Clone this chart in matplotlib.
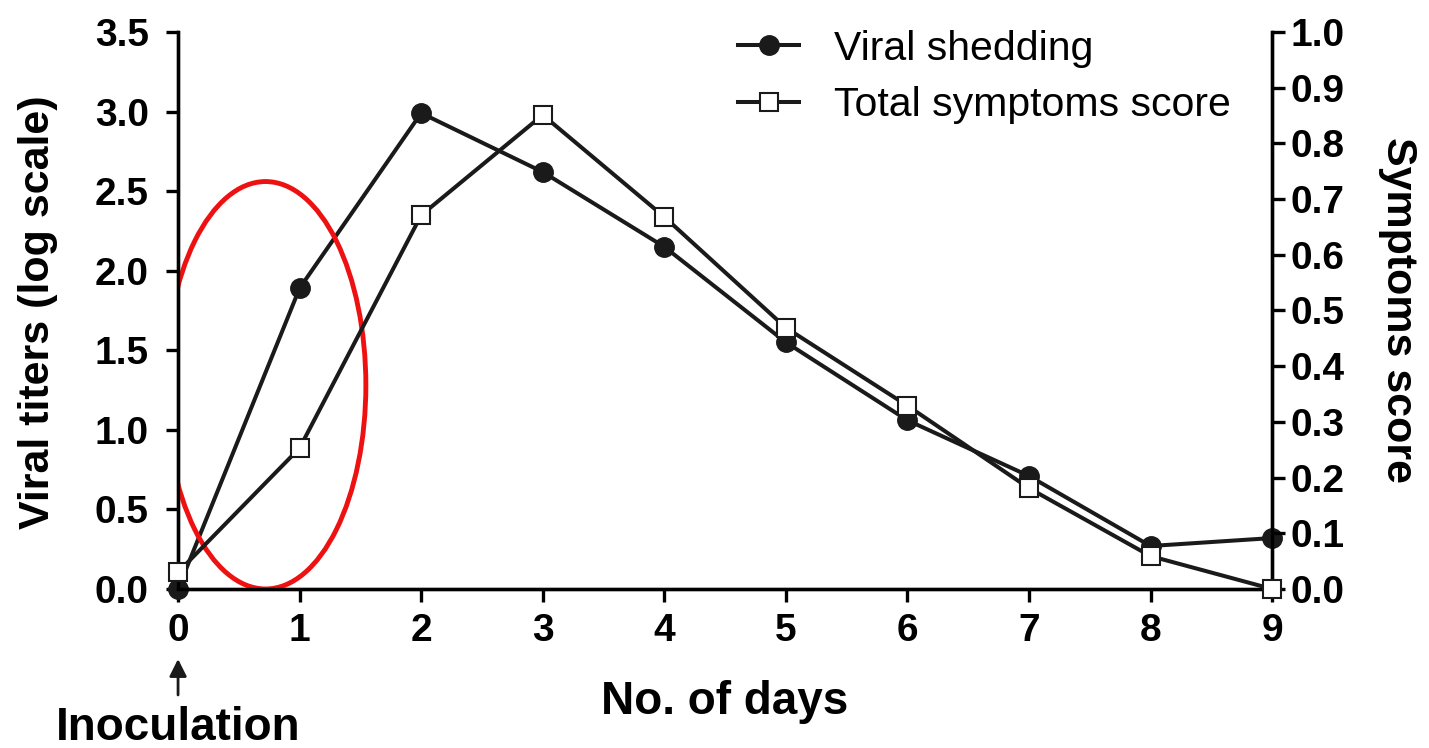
import numpy as np
import matplotlib
matplotlib.use('Agg')
import matplotlib.pyplot as plt
from matplotlib.patches import Ellipse

plt.rcParams['font.family'] = ['Liberation Sans', 'DejaVu Sans']

# データ
days = [0, 1, 2, 3, 4, 5, 6, 7, 8, 9]
viral_shedding = [0.0, 1.89, 2.99, 2.62, 2.15, 1.55, 1.06, 0.71, 0.27, 0.32]
symptoms_score = [0.03, 0.253, 0.671, 0.851, 0.668, 0.469, 0.329, 0.181, 0.059, 0.0]
left_ticks = [0.0, 0.5, 1.0, 1.5, 2.0, 2.5, 3.0, 3.5]
right_ticks = [0.0, 0.1, 0.2, 0.3, 0.4, 0.5, 0.6, 0.7, 0.8, 0.9, 1.0]

fig = plt.figure(figsize=(14.29, 7.48), dpi=100)
ax1 = fig.add_axes([0.1246, 0.2126, 0.7656, 0.7447])
ax2 = ax1.twinx()

lw = 2.4
dlw = 2.9
l1, = ax1.plot(days, viral_shedding, color='#1a1a1a', lw=dlw, marker='o', ms=14,
               mfc='#1a1a1a', mec='#1a1a1a', clip_on=False, zorder=3,
               label='Viral shedding')
l2, = ax2.plot(days, symptoms_score, color='#1a1a1a', lw=dlw, marker='s', ms=13.5,
               mfc='white', mec='#1a1a1a', mew=1.5, clip_on=False, zorder=3,
               label='Total symptoms score')

ax1.set_xlim(0, 9)
ax1.set_ylim(0, 3.5)
ax2.set_ylim(0, 1.0)
ax1.set_xticks(days)
ax1.set_yticks(left_ticks)
ax1.set_yticklabels([f'{v:.1f}' for v in left_ticks])
ax2.set_yticks(right_ticks)
ax2.set_yticklabels([f'{v:.1f}' for v in right_ticks])

for ax in (ax1, ax2):
    ax.spines['top'].set_visible(False)
    for s in ax.spines.values():
        s.set_linewidth(lw)
    ax.tick_params(width=lw, length=9, labelsize=28, direction='out')
    for lab in ax.get_xticklabels() + ax.get_yticklabels():
        lab.set_fontweight('bold')
ax1.tick_params(axis='x', pad=8)
ax1.tick_params(axis='y', pad=12)
ax2.tick_params(axis='y', pad=4)

ax1.set_xlabel('No. of days', fontsize=33, fontweight='bold')
ax1.xaxis.set_label_coords(0.5, -0.164)
ax1.set_ylabel('Viral titers (log scale)', fontsize=31, fontweight='bold')
ax1.yaxis.set_label_coords(-0.11, 0.497)
ax2.set_ylabel('Symptoms score', fontsize=31, fontweight='bold', rotation=270, va='center')
ax2.yaxis.set_label_coords(1.115, 0.5)

# 赤い楕円
ell = Ellipse((0.72, 1.28), 1.65, 2.56, fill=False, edgecolor='#ee1111', lw=3.5, zorder=4)
ax1.add_patch(ell)

# Inoculation 矢印
ax1.annotate('', xy=(0, -0.44), xytext=(0, -0.666), xycoords='data',
             arrowprops=dict(arrowstyle='-|>', color='#1a1a1a', lw=2.0, mutation_scale=26,
                             shrinkA=0, shrinkB=0),
             annotation_clip=False)
ax1.text(0, -0.95, 'Inoculation', ha='center', va='baseline', fontsize=33, fontweight='bold')

ax2.legend([l1, l2], ['Viral shedding', 'Total symptoms score'], loc='upper left',
           bbox_to_anchor=(0.478, 1.07), frameon=False, fontsize=29.5, handlelength=1.5,
           handletextpad=0.85, labelspacing=0.45)

fig.savefig('out.png', dpi=100)
